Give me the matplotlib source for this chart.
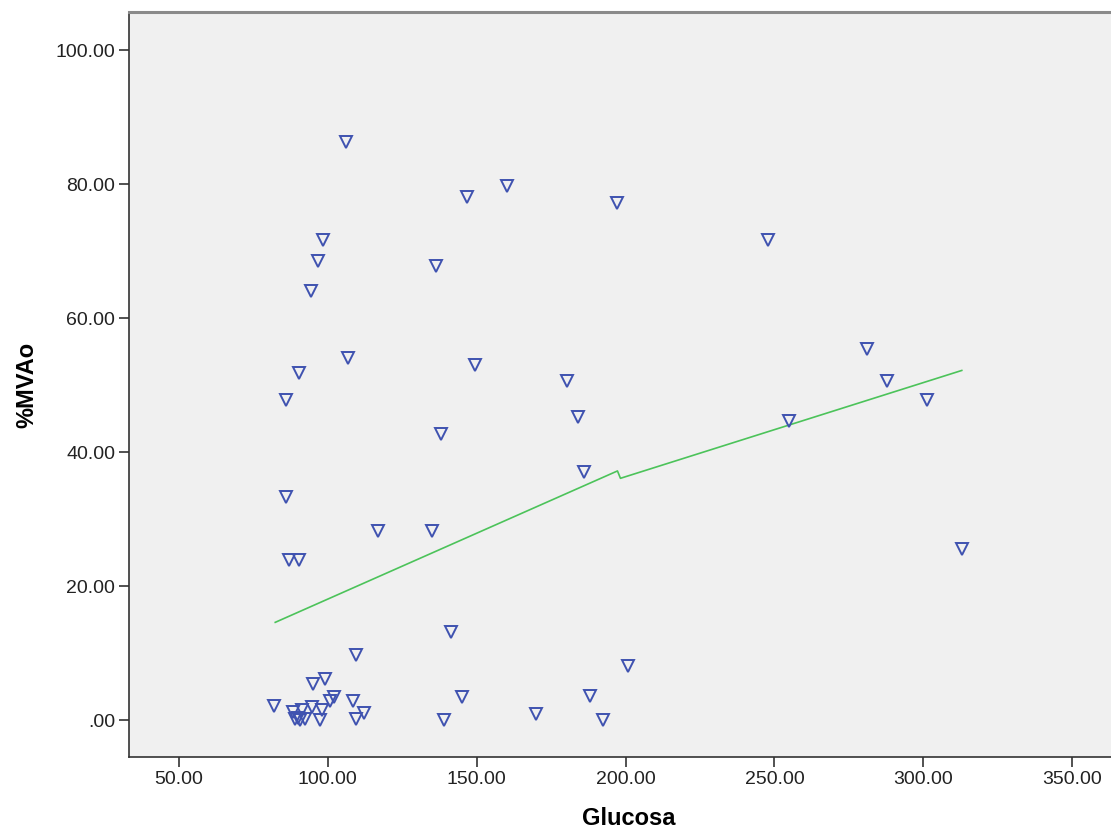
import matplotlib
matplotlib.use("Agg")
import matplotlib.pyplot as plt
from matplotlib.ticker import FuncFormatter

# Glucosa vs %MVAo, one point per patient
glucosa = [106.3, 146.9, 160.3, 197.3, 98.5, 248.0, 96.8, 136.5, 94.5, 106.9,
           90.5, 149.6, 281.0, 180.5, 287.7, 86.1, 301.1, 184.2, 254.8, 138.2,
           185.9, 86.1, 117.0, 135.1, 87.1, 90.5, 312.9, 141.5, 109.6, 200.7,
           99.2, 95.2, 102.2, 100.9, 82.1, 108.6, 145.2, 188.2, 94.8, 88.4,
           98.2, 91.5, 112.3, 170.1, 89.1, 90.8, 97.5, 109.6, 138.9, 192.3,
           92.5, 90.1]
mvao = [86.3, 78.1, 79.7, 77.2, 71.6, 71.6, 68.5, 67.8, 64.0, 54.0,
        51.8, 53.0, 55.4, 50.6, 50.6, 47.8, 47.8, 45.2, 44.6, 42.7,
        37.0, 33.3, 28.2, 28.2, 23.9, 23.9, 25.5, 13.1, 9.7, 8.1,
        6.1, 5.4, 3.4, 2.9, 2.1, 2.8, 3.4, 3.6, 2.0, 1.2,
        1.5, 1.5, 1.0, 0.9, 0.1, 0.0, 0.0, 0.1, 0.0, 0.0,
        0.1, 0.3]

# fitted line vertices
fit_x = [82.4, 197.3, 198.3, 312.9]
fit_y = [14.6, 37.2, 36.1, 52.2]

xticks = [50, 100, 150, 200, 250, 300, 350]
yticks = [0, 20, 40, 60, 80, 100]

plt.rcParams['font.family'] = ['Liberation Sans', 'DejaVu Sans']

fig = plt.figure(figsize=(11.11, 8.35), dpi=100)
# plot area runs past the right edge of the figure
ax = fig.add_axes([0.1161, 0.0934, 0.9, 0.8922])
ax.set_facecolor('#f0f0f0')

ax.plot(fit_x, fit_y, color='#4cc35a', lw=1.2, zorder=2)
ax.plot(glucosa, mvao, linestyle='none', marker='v', markersize=9.2,
        markerfacecolor='none', markeredgecolor='#3f52b0', markeredgewidth=1.4,
        zorder=3)

ax.set_xlim(33.3, 369.0)
ax.set_ylim(-5.5, 105.7)
ax.set_xticks(xticks)
ax.set_yticks(yticks)


def spss_fmt(v, pos):
    s = '%.2f' % v
    return s[1:] if s.startswith('0') else s


ax.xaxis.set_major_formatter(FuncFormatter(lambda v, p: '%.2f' % v))
ax.yaxis.set_major_formatter(FuncFormatter(spss_fmt))
ax.tick_params(axis='both', direction='out', length=7, width=1.2,
               color='#333333', labelsize=14, labelcolor='#222222', pad=3)

ax.spines['left'].set_color('#333333')
ax.spines['bottom'].set_color('#333333')
ax.spines['left'].set_linewidth(1.2)
ax.spines['bottom'].set_linewidth(1.2)
ax.spines['top'].set_color('#8a8a8a')
ax.spines['top'].set_linewidth(2.2)
ax.spines['right'].set_visible(False)

ax.set_xlabel('Glucosa', fontsize=17, fontweight='bold', labelpad=14)
ax.set_ylabel('%MVAo', fontsize=17, fontweight='bold', labelpad=12)

fig.savefig('out.png', dpi=100, facecolor='white')
